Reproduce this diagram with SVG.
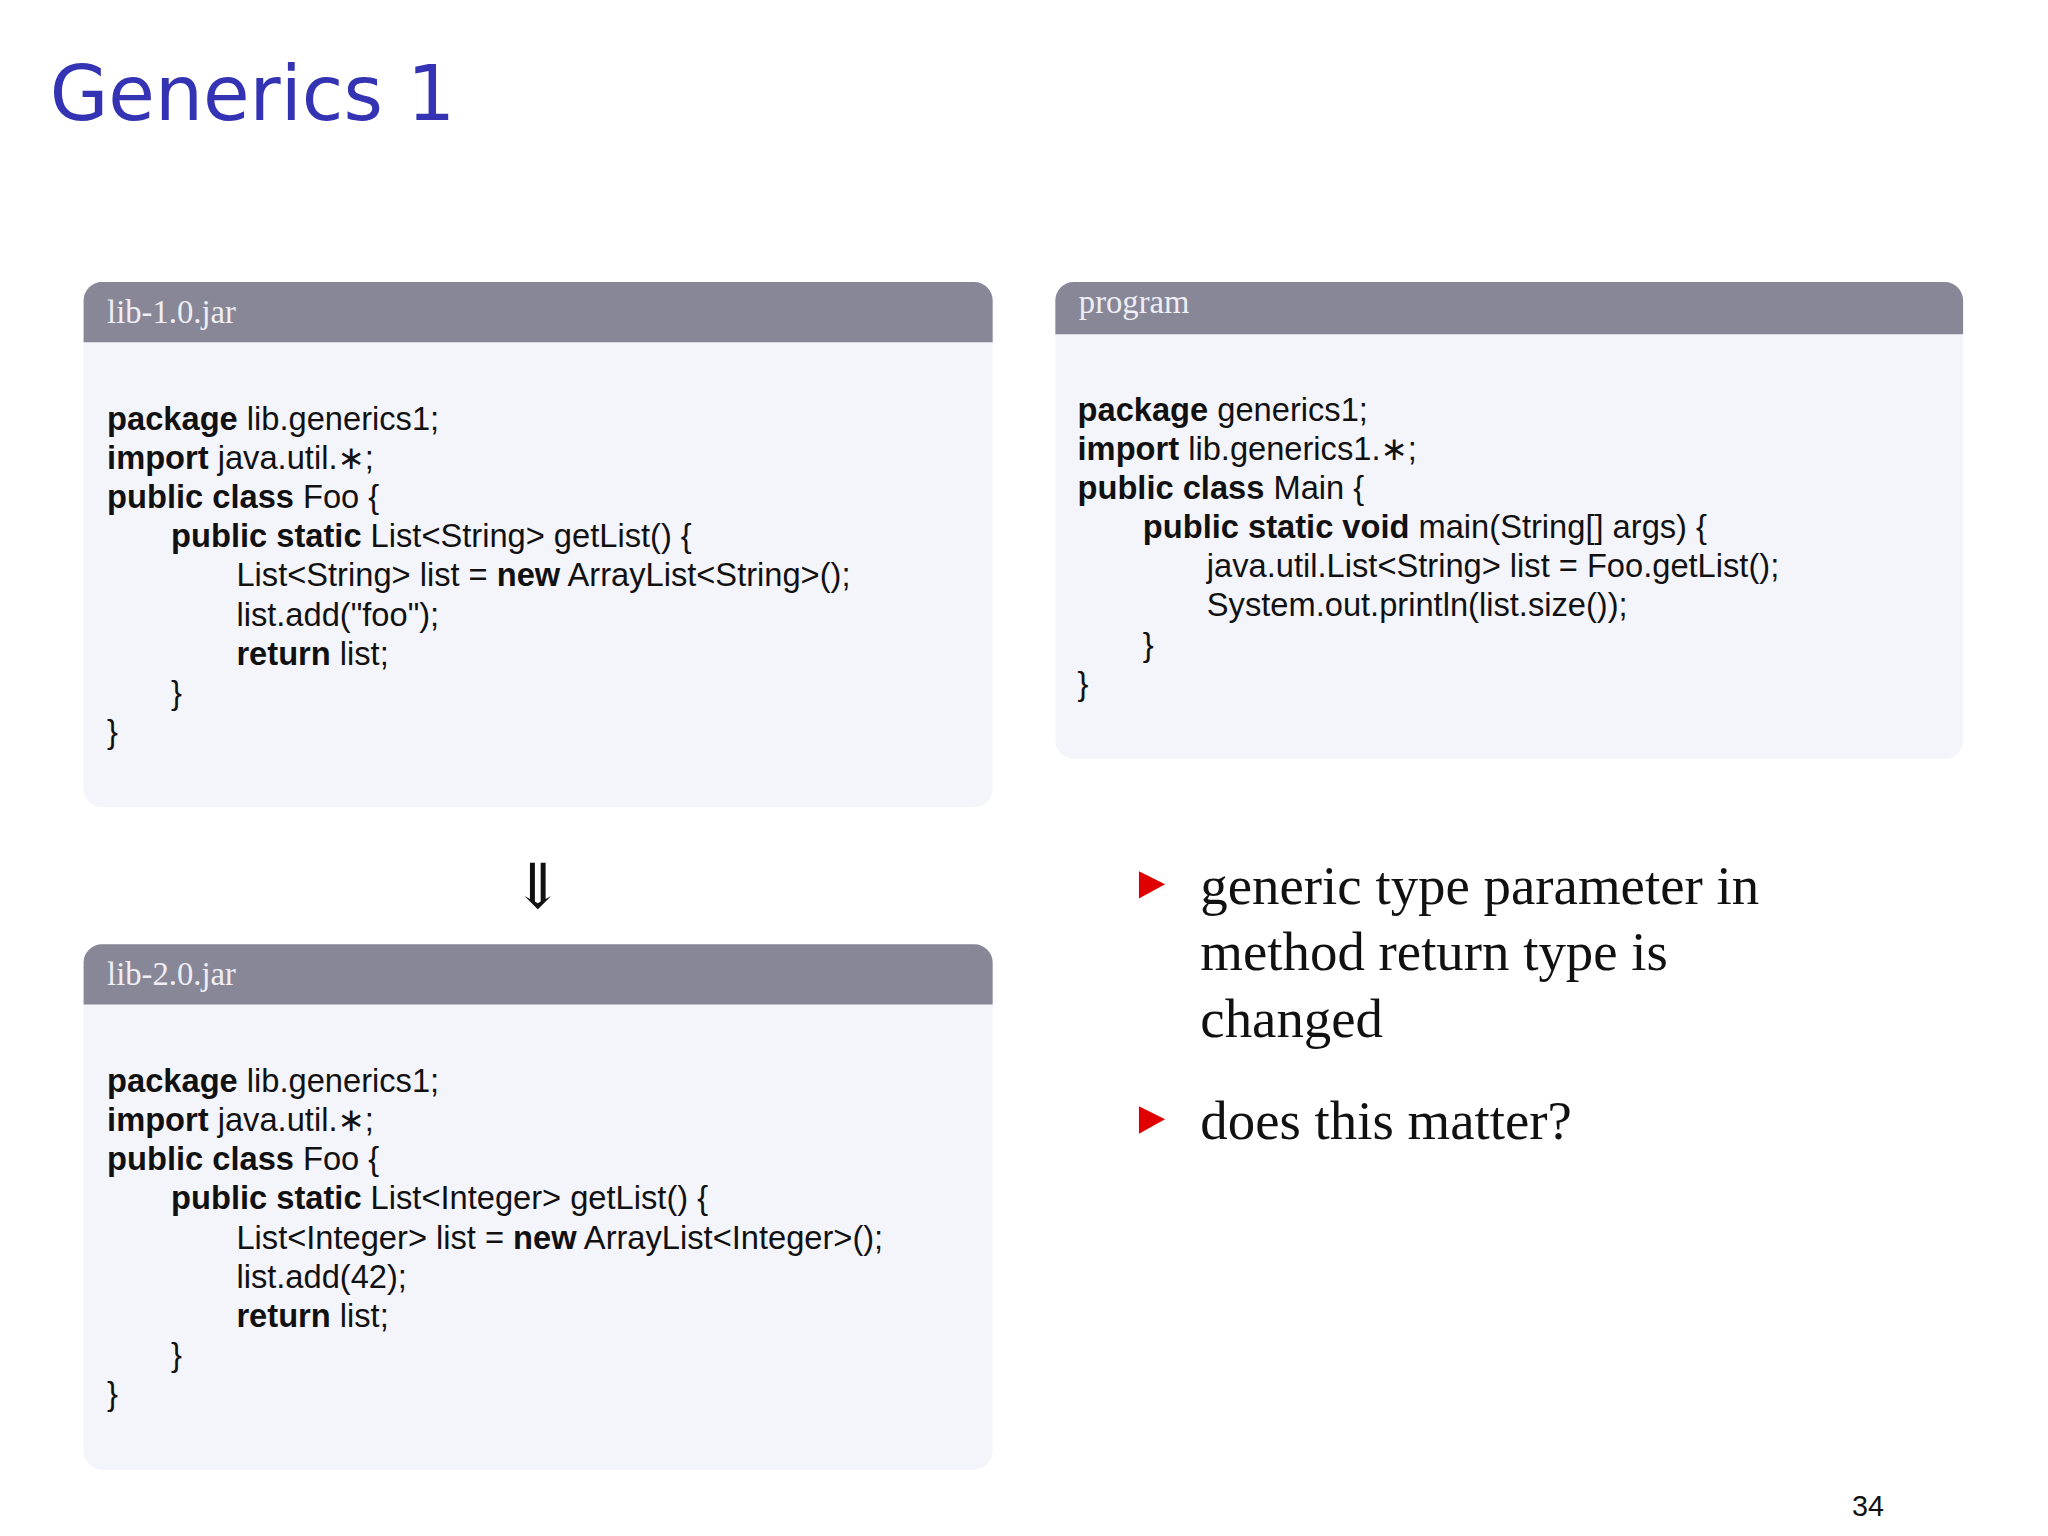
<svg xmlns="http://www.w3.org/2000/svg" width="2048" height="1536" viewBox="0 0 2048 1536">
<style>
.code{font-family:"Liberation Sans","DejaVu Sans",sans-serif;font-size:25px;fill:#111}
.b{font-weight:bold}
.hdr{font-family:"Liberation Serif",serif;font-size:25px;fill:#eeeef4}
.body{fill:#f4f4fb}
.head{fill:#878797}
.bul{font-family:"Liberation Serif",serif;font-size:42px;fill:#111}
</style>
<rect width="2048" height="1536" fill="#ffffff"/>
<g transform="scale(1.30612)">
<text x="38" y="92" font-family="'DejaVu Sans',sans-serif" font-size="58" fill="#3333b3">Generics 1</text>
<g id="lib1">
<rect class="body" x="64" y="216" width="696" height="402" rx="14"/>
<path class="head" d="M64 262V230a14 14 0 0 1 14-14H746a14 14 0 0 1 14 14V262Z"/>
<text class="hdr" x="82" y="247">lib-1.0.jar</text>
<text class="code" x="82" y="329"><tspan class="b">package</tspan> lib.generics1;</text>
<text class="code" x="82" y="359"><tspan class="b">import</tspan> java.util.∗;</text>
<text class="code" x="82" y="389"><tspan class="b">public class</tspan> Foo {</text>
<text class="code" x="131" y="419"><tspan class="b">public static</tspan> List&lt;String&gt; getList() {</text>
<text class="code" x="181" y="449">List&lt;String&gt; list = <tspan class="b">new</tspan> ArrayList&lt;String&gt;();</text>
<text class="code" x="181" y="479">list.add("foo");</text>
<text class="code" x="181" y="509"><tspan class="b">return</tspan> list;</text>
<text class="code" x="131" y="539">}</text>
<text class="code" x="82" y="569">}</text>
</g>
<g id="program">
<rect class="body" x="808" y="216" width="695" height="365" rx="14"/>
<path class="head" d="M808 256V230a14 14 0 0 1 14-14H1489a14 14 0 0 1 14 14V256Z"/>
<text class="hdr" x="826" y="240">program</text>
<text class="code" x="825" y="322"><tspan class="b">package</tspan> generics1;</text>
<text class="code" x="825" y="352"><tspan class="b">import</tspan> lib.generics1.∗;</text>
<text class="code" x="825" y="382"><tspan class="b">public class</tspan> Main {</text>
<text class="code" x="875" y="412"><tspan class="b">public static void</tspan> main(String[] args) {</text>
<text class="code" x="924" y="442">java.util.List&lt;String&gt; list = Foo.getList();</text>
<text class="code" x="924" y="472">System.out.println(list.size());</text>
<text class="code" x="875" y="502">}</text>
<text class="code" x="825" y="532">}</text>
</g>
<g id="lib2">
<rect class="body" x="64" y="723" width="696" height="402" rx="14"/>
<path class="head" d="M64 769V737a14 14 0 0 1 14-14H746a14 14 0 0 1 14 14V769Z"/>
<text class="hdr" x="82" y="754">lib-2.0.jar</text>
<text class="code" x="82" y="836"><tspan class="b">package</tspan> lib.generics1;</text>
<text class="code" x="82" y="866"><tspan class="b">import</tspan> java.util.∗;</text>
<text class="code" x="82" y="896"><tspan class="b">public class</tspan> Foo {</text>
<text class="code" x="131" y="926"><tspan class="b">public static</tspan> List&lt;Integer&gt; getList() {</text>
<text class="code" x="181" y="956">List&lt;Integer&gt; list = <tspan class="b">new</tspan> ArrayList&lt;Integer&gt;();</text>
<text class="code" x="181" y="986">list.add(42);</text>
<text class="code" x="181" y="1016"><tspan class="b">return</tspan> list;</text>
<text class="code" x="131" y="1046">}</text>
<text class="code" x="82" y="1076">}</text>
</g>
<g id="connectors">
<text x="412" y="695" text-anchor="middle" font-family="'DejaVu Serif',serif" font-size="48" fill="#111">⇓</text>
</g>
<g id="bullets">
<polygon points="872,667 892,677 872,688" fill="#e00000"/>
<text class="bul" x="919" y="692">generic type parameter in</text>
<text class="bul" x="919" y="743">method return type is</text>
<text class="bul" x="919" y="794">changed</text>
<polygon points="872,847 892,857 872,868" fill="#e00000"/>
<text class="bul" x="919" y="872">does this matter?</text>
</g>
<text x="1418" y="1161" font-family="'Liberation Sans',sans-serif" font-size="22" fill="#111">34</text>
</g>
</svg>
